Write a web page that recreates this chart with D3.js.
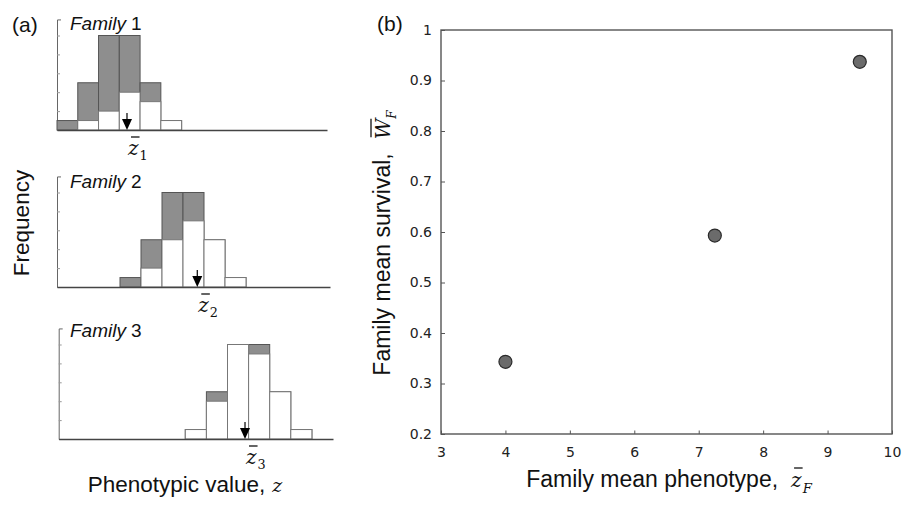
<!DOCTYPE html>
<html>
<head>
<meta charset="utf-8">
<script src="https://cdn.jsdelivr.net/npm/d3@7"></script>
<style>
  body { margin: 0; background: #fff; }
  svg { display: block; }
</style>
</head>
<body>
<svg id="chart" width="911" height="506"></svg>
<script>
// ---- data ----
const familyIds = [1, 2, 3];
const binStart = [0, 3, 6];                 // first occupied bin of each family
const totalCounts = [
  [1, 5, 10, 10, 5, 1],
  [1, 5, 10, 10, 5, 1],
  [1, 5, 10, 10, 5, 1]
];
const survivorCounts = [
  [0, 1, 2, 4, 3, 1],
  [0, 2, 5, 7, 5, 1],
  [1, 4, 10, 9, 5, 1]
];
const meanArrowBin = [3.37, 6.68, 8.83];    // family mean, in bin units
const freqTicks = [2, 4, 6, 8, 10];

const meanPhenotype = [4, 7.25, 9.5];
const meanSurvival = [0.343, 0.593, 0.937];
const xTicksB = [3, 4, 5, 6, 7, 8, 9, 10];
const yTicksB = [0.2, 0.3, 0.4, 0.5, 0.6, 0.7, 0.8, 0.9, 1];

// ---- styles ----
const sans = "'Liberation Sans', Arial, sans-serif";
const serif = "'DejaVu Serif', 'Liberation Serif', serif";
const tickFont = "'DejaVu Sans', Verdana, sans-serif";

const svg = d3.select("#chart");

// italic letter with an overbar and a subscript; returns its width
function barSymbol(parent, x, sym, sub, o) {
  const g = parent.append("g").attr("transform", `translate(${x},0)`);
  const t = g.append("text")
    .attr("font-family", serif).attr("font-style", "italic")
    .attr("font-size", o.size).attr("fill", "#111").text(sym);
  const w = t.node().getComputedTextLength();
  const s = g.append("text")
    .attr("x", w + o.subGap).attr("y", o.subDy)
    .attr("font-family", serif).attr("font-style", o.subItalic ? "italic" : "normal")
    .attr("font-size", o.size * o.subScale).attr("fill", "#111").text(sub);
  const ws = s.node().getComputedTextLength();
  g.append("line")
    .attr("x1", o.barX0).attr("x2", w + o.barX1)
    .attr("y1", -o.barY).attr("y2", -o.barY)
    .attr("stroke", "#111").attr("stroke-width", 1.3);
  return w + o.subGap + ws;
}

// ================= panel (a) =================
const panelsA = [
  { base: 130, x0: 57, x1: 327, labelY: 30 },
  { base: 287, x0: 57, x1: 330, labelY: 188 },
  { base: 439, x0: 58.7, x1: 333, labelY: 337 }
];
const perCount = 9.45;

familyIds.forEach((id, i) => {
  const p = panelsA[i];
  const x = d3.scaleLinear().domain([0, 13]).range([p.x0, p.x1]);
  const y = d3.scaleLinear().domain([0, 11.7]).range([p.base, p.base - 11.7 * perCount]);
  const g = svg.append("g");

  // frequency axis (no labels, inward ticks)
  g.append("g")
    .attr("transform", `translate(${p.x0},0)`)
    .call(d3.axisLeft(y).tickValues(freqTicks).tickSize(-3).tickSizeOuter(-4).tickFormat(""))
    .call(a => a.select(".domain").attr("stroke", "#666").attr("stroke-width", 1))
    .call(a => a.selectAll(".tick line").attr("stroke", "#999"));

  const bins = totalCounts[i].map((t, k) => ({
    bin: binStart[i] + k, total: t, surv: survivorCounts[i][k]
  }));

  // all individuals (grey), survivors (white) drawn on top
  g.selectAll("rect.tot").data(bins).join("rect")
    .attr("class", "tot")
    .attr("x", d => x(d.bin)).attr("width", d => x(d.bin + 1) - x(d.bin))
    .attr("y", d => y(d.total)).attr("height", d => y(0) - y(d.total))
    .attr("fill", "#8e8e8e").attr("stroke", "#555").attr("stroke-width", 1);

  g.selectAll("rect.surv").data(bins.filter(d => d.surv > 0)).join("rect")
    .attr("class", "surv")
    .attr("x", d => x(d.bin)).attr("width", d => x(d.bin + 1) - x(d.bin))
    .attr("y", d => y(d.surv)).attr("height", d => y(0) - y(d.surv))
    .attr("fill", "#fff").attr("stroke", "#777").attr("stroke-width", 1);

  // phenotype baseline
  g.append("g")
    .attr("transform", `translate(0,${p.base})`)
    .call(d3.axisBottom(x).tickValues([]).tickSizeOuter(0))
    .call(a => a.select(".domain").attr("stroke", "#444").attr("stroke-width", 1.6));

  // mean arrow
  const ax = x(meanArrowBin[i]);
  g.append("line")
    .attr("x1", ax).attr("x2", ax).attr("y1", p.base - 17).attr("y2", p.base - 9)
    .attr("stroke", "#000").attr("stroke-width", 1.2);
  g.append("path")
    .attr("d", `M${ax - 5},${p.base - 11}L${ax + 5},${p.base - 11}L${ax},${p.base}Z`)
    .attr("fill", "#000");

  // z-bar label
  const lg = g.append("g").attr("transform", `translate(${ax + 1},${p.base + 25})`);
  barSymbol(lg, 0, "z", String(id),
    { size: 20, subGap: 1, subScale: 0.64, subDy: 5, subItalic: false, barX0: 3, barX1: 1, barY: 18 });

  // family title
  g.append("text")
    .attr("x", 70).attr("y", p.labelY)
    .attr("font-family", sans).attr("font-size", 19).attr("fill", "#111")
    .call(t => t.append("tspan").attr("font-style", "italic").text("Family"))
    .call(t => t.append("tspan").attr("dx", 5).text(String(id)));
});

svg.append("text")
  .attr("x", 12).attr("y", 32)
  .attr("font-family", sans).attr("font-size", 21).attr("fill", "#111")
  .text("(a)");

svg.append("text")
  .attr("transform", "translate(29,223) rotate(-90)")
  .attr("text-anchor", "middle")
  .attr("font-family", sans).attr("font-size", 22.5).attr("fill", "#111")
  .text("Frequency");

// "Phenotypic value, z"
{
  const g = svg.append("g");
  const t1 = g.append("text")
    .attr("font-family", sans).attr("font-size", 22.5).attr("fill", "#111")
    .text("Phenotypic value,");
  const w1 = t1.node().getComputedTextLength() + 7;
  const t2 = g.append("text").attr("x", w1)
    .attr("font-family", serif).attr("font-style", "italic")
    .attr("font-size", 19).attr("fill", "#111").text("z");
  const w = w1 + t2.node().getComputedTextLength();
  g.attr("transform", `translate(${185 - w / 2},492)`);
}

// ================= panel (b) =================
const xB = d3.scaleLinear().domain([3, 10]).range([441, 892]);
const yB = d3.scaleLinear().domain([0.2, 1]).range([434, 30]);
const gb = svg.append("g");

gb.append("g")
  .attr("transform", "translate(0,434)")
  .call(d3.axisBottom(xB).tickValues(xTicksB).tickSize(-3.5).tickPadding(13).tickSizeOuter(0)
    .tickFormat(d3.format("d")))
  .call(a => a.select(".domain").remove())
  .call(a => a.selectAll(".tick line").attr("stroke", "#555"))
  .call(a => a.selectAll("text").attr("font-family", tickFont).attr("font-size", 14).attr("fill", "#222"));

gb.append("g")
  .attr("transform", "translate(441,0)")
  .call(d3.axisLeft(yB).tickValues(yTicksB).tickSize(-4).tickPadding(9).tickSizeOuter(0)
    .tickFormat(d => d === 1 ? "1" : d3.format(".1f")(d)))
  .call(a => a.select(".domain").remove())
  .call(a => a.selectAll(".tick line").attr("stroke", "#555"))
  .call(a => a.selectAll("text").attr("font-family", tickFont).attr("font-size", 14).attr("fill", "#222"));

gb.append("rect")
  .attr("x", xB(3)).attr("y", yB(1))
  .attr("width", xB(10) - xB(3)).attr("height", yB(0.2) - yB(1))
  .attr("fill", "none").attr("stroke", "#555").attr("stroke-width", 1.4);

gb.selectAll("circle").data(meanPhenotype).join("circle")
  .attr("cx", d => xB(d))
  .attr("cy", (d, i) => yB(meanSurvival[i]))
  .attr("r", 6.5)
  .attr("fill", "#6b6b6b").attr("stroke", "#2a2a2a").attr("stroke-width", 1.2);

svg.append("text")
  .attr("x", 377).attr("y", 31)
  .attr("font-family", sans).attr("font-size", 21).attr("fill", "#111")
  .text("(b)");

// axis titles with barred symbols
function axisTitle(transformStr, prefix, gap, sym, sub, o) {
  const g = svg.append("g");
  const inner = g.append("g");
  const t1 = inner.append("text")
    .attr("font-family", sans).attr("font-size", 23).attr("fill", "#111")
    .text(prefix);
  const w1 = t1.node().getComputedTextLength() + gap;
  const ws = barSymbol(inner, w1, sym, sub, o);
  inner.attr("transform", `translate(${-(w1 + ws) / 2},0)`);
  g.attr("transform", transformStr);
}

axisTitle("translate(669,487)", "Family mean phenotype,", 13, "z", "F",
  { size: 20, subGap: 1, subScale: 0.66, subDy: 6, subItalic: true, barX0: 3, barX1: 1, barY: 19 });

axisTitle("translate(390,243) rotate(-90)", "Family mean survival,", 14, "W", "F",
  { size: 20, subGap: 0, subScale: 0.6, subDy: 6, subItalic: true, barX0: 2, barX1: 0, barY: 19 });
</script>
</body>
</html>
